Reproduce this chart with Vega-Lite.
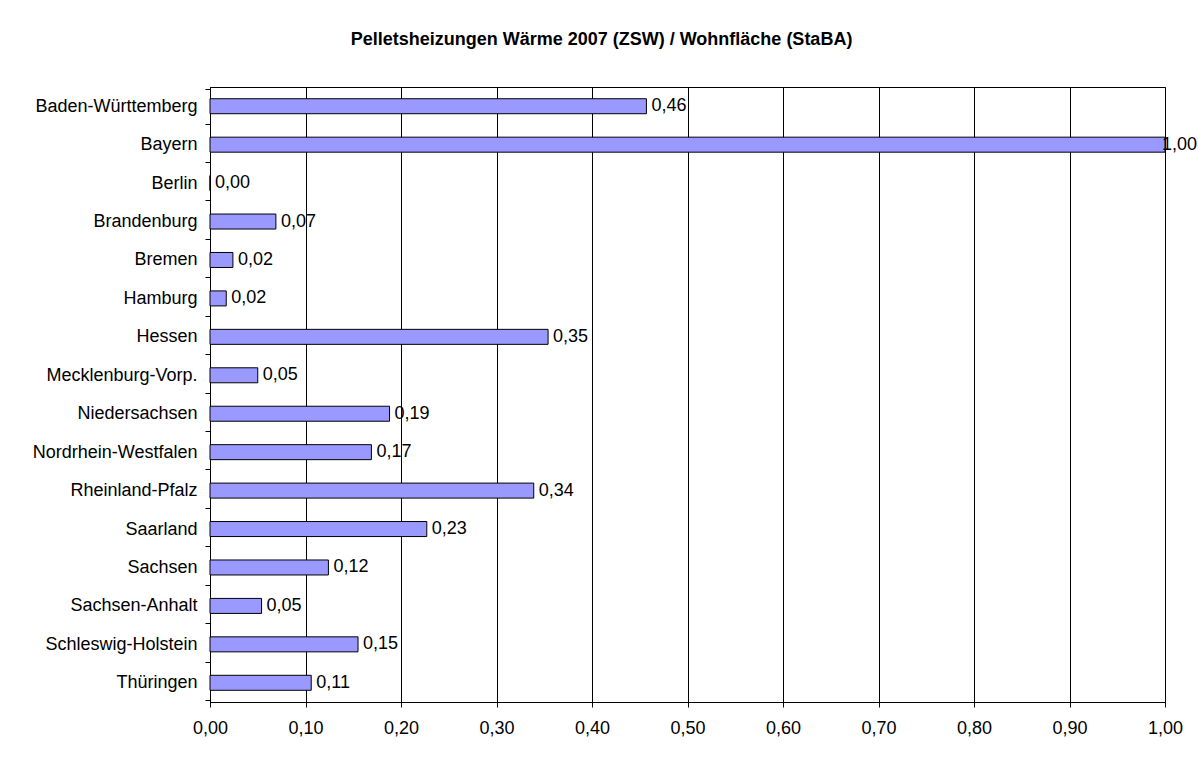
{
  "$schema": "https://vega.github.io/schema/vega-lite/v6.json",
  "width": 955,
  "height": 615,
  "autosize": {"type": "none"},
  "padding": {"left": 210, "top": 87, "right": 33, "bottom": 56},
  "background": "white",
  "title": {
    "text": "Pelletsheizungen Wärme 2007 (ZSW) / Wohnfläche (StaBA)",
    "font": "Liberation Sans",
    "fontSize": 18,
    "fontWeight": "bold",
    "color": "black",
    "anchor": "middle",
    "dx": -86,
    "offset": 29
  },
  "config": {
    "locale": {"number": {"decimal": ",", "thousands": ".", "grouping": [3], "currency": ["", " €"]}},
    "view": {"stroke": "black", "strokeWidth": 1},
    "font": "Liberation Sans"
  },
  "data": {
    "values": [
      {"land": "Baden-Württemberg", "wert": 0.457},
      {"land": "Bayern", "wert": 1.0},
      {"land": "Berlin", "wert": 0.0},
      {"land": "Brandenburg", "wert": 0.069},
      {"land": "Bremen", "wert": 0.024},
      {"land": "Hamburg", "wert": 0.017},
      {"land": "Hessen", "wert": 0.354},
      {"land": "Mecklenburg-Vorp.", "wert": 0.05},
      {"land": "Niedersachsen", "wert": 0.188},
      {"land": "Nordrhein-Westfalen", "wert": 0.169},
      {"land": "Rheinland-Pfalz", "wert": 0.339},
      {"land": "Saarland", "wert": 0.227},
      {"land": "Sachsen", "wert": 0.124},
      {"land": "Sachsen-Anhalt", "wert": 0.054},
      {"land": "Schleswig-Holstein", "wert": 0.155},
      {"land": "Thüringen", "wert": 0.106}
    ]
  },
  "encoding": {
    "y": {
      "field": "land",
      "type": "nominal",
      "sort": null,
      "title": null,
      "axis": {
        "tickBand": "extent",
        "domainColor": "black",
        "tickColor": "black",
        "tickSize": 5,
        "labelPadding": 8,
        "labelFontSize": 18,
        "labelColor": "black",
        "labelFont": "Liberation Sans",
        "grid": false
      }
    }
  },
  "layer": [
    {
      "mark": {"type": "bar", "fill": "#9999FF", "stroke": "black", "strokeWidth": 1, "size": 15},
      "encoding": {
        "x": {
          "field": "wert",
          "type": "quantitative",
          "title": null,
          "scale": {"domain": [0, 1], "nice": false},
          "axis": {
            "values": [0, 0.1, 0.2, 0.3, 0.4, 0.5, 0.6, 0.7, 0.8, 0.9, 1.0],
            "format": ".2f",
            "grid": true,
            "gridColor": "black",
            "gridOpacity": 1,
            "domainColor": "black",
            "tickColor": "black",
            "tickSize": 5,
            "labelPadding": 12,
            "labelFontSize": 18,
            "labelColor": "black",
            "labelFont": "Liberation Sans",
            "labelFlush": false
          }
        }
      }
    },
    {
      "transform": [{"filter": "datum.wert < 0.99"}],
      "mark": {"type": "text", "align": "left", "baseline": "middle", "dx": 5, "fontSize": 18, "color": "black", "font": "Liberation Sans"},
      "encoding": {
        "x": {"field": "wert", "type": "quantitative"},
        "text": {"field": "wert", "type": "quantitative", "format": ".2f"}
      }
    },
    {
      "transform": [{"filter": "datum.wert >= 0.99"}],
      "mark": {"type": "text", "align": "left", "baseline": "middle", "dx": -3, "fontSize": 18, "color": "black", "font": "Liberation Sans"},
      "encoding": {
        "x": {"field": "wert", "type": "quantitative"},
        "text": {"field": "wert", "type": "quantitative", "format": ".2f"}
      }
    }
  ]
}
